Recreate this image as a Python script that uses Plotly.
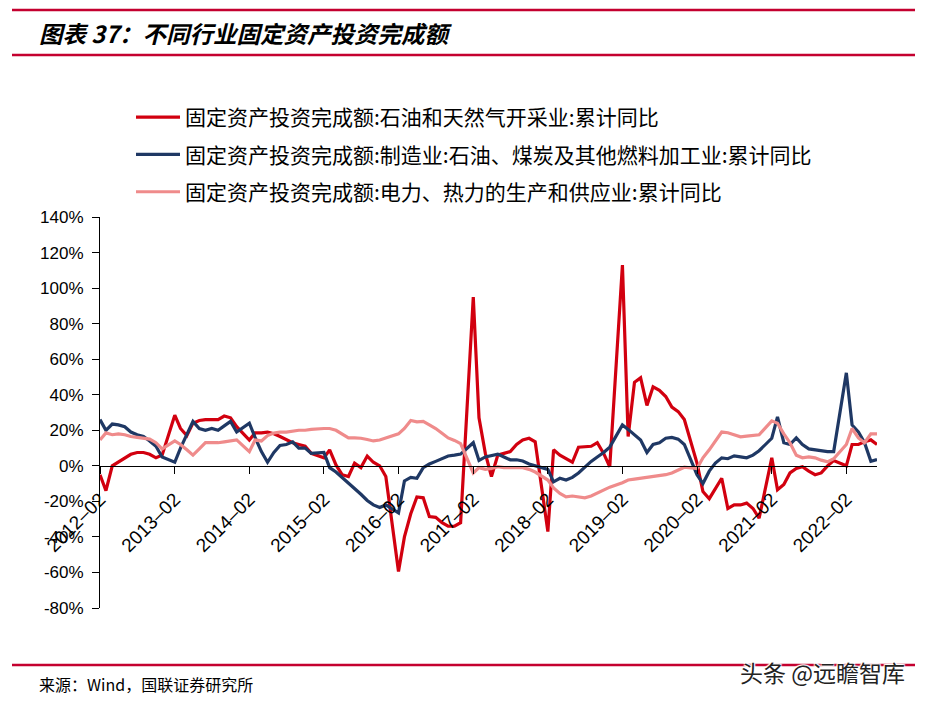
import plotly.graph_objects as go

# ------------------------------------------------------------------
# data: cumulative YoY of fixed-asset investment, monthly Feb..Dec
# (January is not published), 2012-02 .. 2022-07
# ------------------------------------------------------------------
years = list(range(2012, 2023))
last_month_2022 = 7

oil_gas = [
    -5, -14, 0, 2, 4, 6.5, 7.5, 7.5, 6.5, 4.5, 6,              # 2012
    28.5, 21, 17, 24, 25.5, 26, 26, 26, 28, 27, 22,            # 2013
    14.5, 18.5, 18.5, 19, 18, 16.5, 14.5, 13, 12, 11, 7,       # 2014
    4.5, 9, 0.5, -5, -6, 1.5, -1, 5.5, 2, 0, -6,               # 2015
    -59.5, -40, -27, -17.5, -18, -28.5, -29, -32, -34, -34, -32,  # 2016
    95, 27, 7, -6, 6, 7, 8, 12, 14.5, 15.5, 13.5,              # 2017
    -37, 9, 6, 4, 2, 10.5, 10.8, 11, 13, 7, -0.5,              # 2018
    113, 16.5, 47, 49.5, 34, 44.5, 42.5, 39, 33, 30.5, 26,     # 2019
    1.5, -14.5, -18.5, -13, -7, -24, -22, -22, -21, -24, -29.5,  # 2020
    4.5, -13.5, -10.5, -4, -1.5, -0.5, -3, -5, -4, 0, 3,       # 2021
    0, 12, 12, 13.5, 14.6, 12,                                 # 2022
]

petro_coal = [
    26, 20, 23.5, 23, 22, 19, 17.5, 16.5, 14, 11, 5,           # 2012
    2, 10, 17.5, 25, 21, 20, 21, 20, 22.5, 25, 19,             # 2013
    24, 16, 8, 2, 7.5, 11.5, 12, 13.5, 10, 10, 7,              # 2014
    7.5, -1, -3.5, -6.5, -9.5, -12.5, -16, -19.5, -22, -23.5, -22,  # 2015
    -26.5, -8.5, -6.5, -7, -1, 1, 2.5, 4, 5.5, 6, 6.6,         # 2016
    13, 3, 5, 5.8, 6.6, 5, 3.4, 3.4, 2.7, 1, 0,                # 2017
    -2, -9, -7, -8, -6.5, -4, -0.5, 2.5, 5, 7.5, 10.5,         # 2018
    23, 20.5, 17.5, 14.5, 7.5, 12, 13, 15.5, 16, 15, 12,       # 2019
    -5, -10, -3, 1.5, 4.5, 4, 5.6, 5, 4.5, 6, 8.5,             # 2020
    15.5, 27.5, 13, 12, 15.7, 12, 9.5, 9, 8.5, 8, 8,           # 2021
    52.3, 23, 19, 13, 2.5, 3.5,                                # 2022
]

power_heat = [
    14.6, 18.5, 17.5, 18, 17.5, 16.5, 16, 15.5, 15, 13, 9.5,   # 2012
    14, 12, 9, 6, 9.5, 13, 13, 13, 13.5, 14, 14.6,             # 2013
    8, 14.5, 14, 17, 18.5, 19, 19, 19.5, 20, 20, 20.5,         # 2014
    21, 21, 20, 18, 15.7, 15.7, 15.5, 14.8, 14, 14.5, 15.5,    # 2015
    18, 21, 25.5, 24.7, 25, 23, 21, 18.3, 15.7, 14.3, 12.5,    # 2016
    -4, -1, -2, -1.5, -0.5, -1, -1, -1, -1, -2, -3.5,          # 2017
    -8, -12.5, -15.5, -17.5, -17, -17.5, -18, -17, -15.5, -13.5, -12,  # 2018
    -9.5, -8, -7.5, -7, -6.5, -6, -5.5, -5, -4, -2.5, -0.8,    # 2019
    -1.5, 4.5, 9, 14, 19, 18.6, 17.5, 16.3, 16.7, 17.2, 17.5,  # 2020
    25.3, 24, 18, 13, 6, 4.5, 5, 4.5, 3.2, 2.2, 4,             # 2021
    12, 21, 15.7, 13, 18, 18,                                  # 2022
]

names = [
    "固定资产投资完成额:石油和天然气开采业:累计同比",
    "固定资产投资完成额:制造业:石油、煤炭及其他燃料加工业:累计同比",
    "固定资产投资完成额:电力、热力的生产和供应业:累计同比",
]
colors = ["#D2000F", "#1F3864", "#EF8B8B"]

y_ticks = list(range(-80, 141, 20))
y_tick_text = [f"{v}%" for v in y_ticks]

# month axis: Feb..Dec of each year
months = []
for yr in years:
    for m in range(2, 13):
        if yr == 2022 and m > last_month_2022:
            break
        months.append(f"{yr}-{m:02d}-01")

tick_vals = [f"{yr}-02-01" for yr in years]
tick_text = [f"{yr}–02" for yr in years]

# ------------------------------------------------------------------
W, H = 925, 703
L, R, T, B = 100, 48, 217, 95
PW, PH = W - L - R, H - T - B


def px_x(x):
    return (x - L) / PW


def px_y(y):
    return (H - B - y) / PH


fig = go.Figure()
for i, (series, name, col) in enumerate(zip([oil_gas, petro_coal, power_heat], names, colors)):
    fig.add_trace(go.Scatter(
        x=months,
        y=series,
        mode="lines",
        name=name,
        legendgroup=f"g{i}",
        line=dict(color=col, width=3.2),
        cliponaxis=False,
    ))

fig.update_layout(
    width=W,
    height=H,
    margin=dict(l=L, r=R, t=T, b=B),
    paper_bgcolor="white",
    plot_bgcolor="white",
    font=dict(family="Liberation Sans, Arial, sans-serif", color="black"),
    showlegend=True,
    legend=dict(
        x=px_x(131),
        y=px_y(97),
        xanchor="left",
        yanchor="top",
        orientation="v",
        font=dict(family="Noto Sans CJK SC", size=21, color="black"),
        tracegroupgap=7,
        bgcolor="rgba(0,0,0,0)",
        itemwidth=44,
    ),
    xaxis=dict(
        type="date",
        range=["2012-02-01", f"2022-{last_month_2022:02d}-01"],
        tickvals=tick_vals,
        ticktext=tick_text,
        tickangle=-45,
        tickfont=dict(size=19),
        ticklabelstandoff=7,
        showline=True,
        linecolor="black",
        linewidth=1,
        ticks="outside",
        ticklen=7,
        tickcolor="black",
        showgrid=False,
        zeroline=False,
        anchor="free",
        position=80 / 220,
    ),
    yaxis=dict(
        range=[-80, 140],
        tickvals=y_ticks,
        ticktext=y_tick_text,
        tickfont=dict(size=17),
        ticklabelstandoff=5,
        showline=True,
        linecolor="black",
        linewidth=1,
        ticks="outside",
        ticklen=7,
        tickcolor="black",
        showgrid=False,
        zeroline=False,
    ),
)

rule = "#C4002F"
for y0, x1 in [(10, 915), (55, 915), (665, 915)]:
    fig.add_shape(type="line", xref="paper", yref="paper",
                  x0=px_x(12), x1=px_x(x1), y0=px_y(y0), y1=px_y(y0),
                  line=dict(color=rule, width=2.5))

fig.add_annotation(
    text="<b><i>图表 37：不同行业固定资产投资完成额</i></b>",
    xref="paper", yref="paper", x=px_x(37), y=px_y(33),
    xanchor="left", yanchor="middle", showarrow=False,
    font=dict(family="Noto Sans CJK SC", size=23.5, color="black"),
)
fig.add_annotation(
    text="来源：Wind，国联证券研究所",
    xref="paper", yref="paper", x=px_x(37), y=px_y(684),
    xanchor="left", yanchor="middle", showarrow=False,
    font=dict(family="Noto Sans CJK SC", size=16, color="black"),
)
fig.add_annotation(
    text="头条 @远瞻智库",
    xref="paper", yref="paper", x=px_x(907), y=px_y(672),
    xanchor="right", yanchor="middle", showarrow=False,
    font=dict(family="Noto Sans CJK SC", size=23, color="#222222",
              shadow="1px 1px 1px white, -1px -1px 1px white, 1px -1px 1px white, -1px 1px 1px white"),
)

fig.write_html("out.html", config={"displayModeBar": False},
               post_script="document.body.style.margin='0px';")
